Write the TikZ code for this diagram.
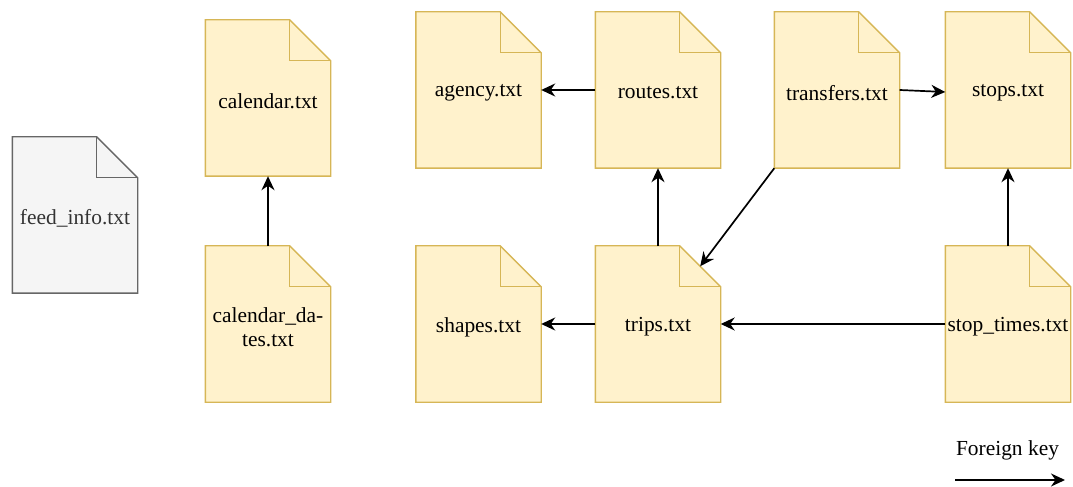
\documentclass[tikz,border=0pt]{standalone}
\usepackage{fontspec}
\setmainfont{LiberationSerif}[Extension=.ttf,UprightFont=*-Regular,BoldFont=*-Bold]
\usetikzlibrary{arrows.meta,backgrounds}

\definecolor{docfill}{HTML}{FFF2CC}
\definecolor{docline}{HTML}{D6B656}
\definecolor{metafill}{HTML}{F5F5F5}
\definecolor{metaline}{HTML}{666666}
\definecolor{metatext}{HTML}{333333}

\begin{document}
\begin{tikzpicture}[x=1bp,y=-1bp]
\tikzset{
  filenode/.style={rectangle,minimum width=125bp,minimum height=156bp,inner sep=0pt,align=center,
    font=\fontsize{21.5}{24}\selectfont},
  fileedge/.style={draw=docline,fill=docfill,line width=1.4bp,line join=miter},
  metaedge/.style={draw=metaline,fill=metafill,line width=1.4bp,line join=miter},
  fkey/.style={draw=black,line width=1.7bp,-{Stealth[length=14bp,width=13bp,inset=4.5bp]}}
}
\useasboundingbox (0,0) rectangle (1073,487);
% table files
\node[filenode,text=metatext] (feed_info) at (75,218) {feed\_info.txt};
\node[filenode] (calendar) at (268,101) {calendar.txt};
\node[filenode] (calendar_dates) at (268,327) {calendar\_da-\\tes.txt};
\node[filenode] (agency) at (478.5,93) {agency.txt};
\node[filenode] (routes) at (658,93) {routes.txt};
\node[filenode] (transfers) at (837,93) {transfers.txt};
\node[filenode] (stops) at (1008,93) {stops.txt};
\node[filenode] (shapes) at (478.5,327) {shapes.txt};
\node[filenode] (trips) at (658,327) {trips.txt};
\node[filenode] (stop_times) at (1008,327) {stop\_times.txt};
% dog-eared outlines behind the labels, 3bp above the text centre
\begin{scope}[on background layer]
\foreach \f/\s in {feed_info/metaedge,calendar/fileedge,calendar_dates/fileedge,agency/fileedge,
    routes/fileedge,transfers/fileedge,stops/fileedge,shapes/fileedge,trips/fileedge,stop_times/fileedge}{
  \path[\s] ([yshift=3bp]\f.north west) -- ([xshift=-41bp,yshift=3bp]\f.north east)
    -- ([yshift=-38bp]\f.north east) -- ([yshift=3bp]\f.south east) -- ([yshift=3bp]\f.south west) -- cycle;
  \draw[\s,fill=none] ([xshift=-41bp,yshift=3bp]\f.north east) |- ([yshift=-38bp]\f.north east);
}
\end{scope}
% foreign keys
\draw[fkey] ([yshift=3bp]calendar_dates.north) -- ([yshift=3bp]calendar.south);
\draw[fkey] ([yshift=3bp]routes.west) -- ([yshift=3bp]agency.east);
\draw[fkey] ([yshift=3bp]trips.north) -- ([yshift=3bp]routes.south);
\draw[fkey] ([yshift=3bp]transfers.south west) -- ([xshift=-20.5bp,yshift=-17.5bp]trips.north east);
\draw[fkey] ([yshift=3bp]transfers.east) -- ([yshift=1bp]stops.west);
\draw[fkey] ([yshift=3bp]stop_times.north) -- ([yshift=3bp]stops.south);
\draw[fkey] ([yshift=3bp]stop_times.west) -- ([yshift=3bp]trips.east);
\draw[fkey] ([yshift=3bp]trips.west) -- ([yshift=3bp]shapes.east);
% legend
\node[font=\fontsize{21.5}{24}\selectfont] (legend) at (1007.5,450) {Foreign key};
\coordinate (key_a) at (955,480);
\coordinate (key_b) at (1065,480);
\draw[fkey] (key_a) -- (key_b);
\end{tikzpicture}
\end{document}
